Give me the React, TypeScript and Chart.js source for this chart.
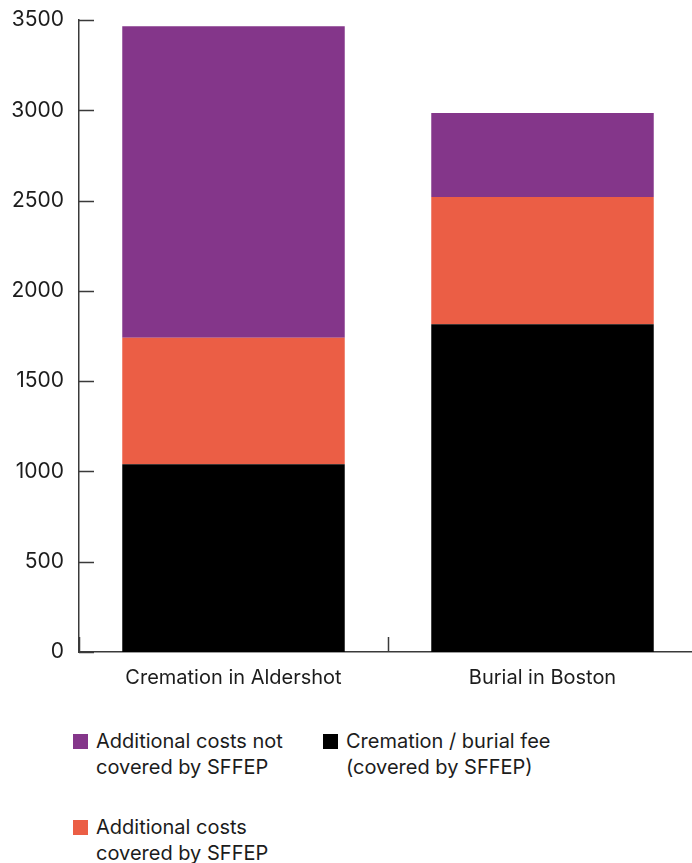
import React, { useEffect, useRef } from "react";
import { Chart, registerables } from "chart.js";

Chart.register(...registerables);

// Funeral cost breakdown, in pounds
const categories = ["Cremation in Aldershot", "Burial in Boston"];
const feeCovered = [1040, 1815];
const extraCovered = [700, 705];
const extraNotCovered = [1725, 465];
const yTicks = [0, 500, 1000, 1500, 2000, 2500, 3000, 3500];

const seriesLabels = {
  fee: ["Cremation / burial fee", "(covered by SFFEP)"],
  covered: ["Additional costs", "covered by SFFEP"],
  notCovered: ["Additional costs not", "covered by SFFEP"],
};

const PURPLE = "#84368a";
const ORANGE = "#eb5e45";
const BLACK = "#000000";
const AXIS = "#3a3a3a";
const TEXT = "#1c1c1c";
const FONT = "Inter, 'Noto Sans', sans-serif";

// Short tick marks drawn inward from both axes
const innerTicks = {
  id: "innerTicks",
  afterDatasetsDraw(chart: any) {
    const { ctx, chartArea, scales } = chart;
    const x = scales.x;
    const y = scales.y;
    const len = 15;
    ctx.save();
    ctx.strokeStyle = AXIS;
    ctx.lineWidth = 1.5;
    ctx.beginPath();
    y.ticks.forEach((_t: any, i: number) => {
      const py = Math.round(y.getPixelForTick(i)) + 0.5;
      ctx.moveTo(chartArea.left, py);
      ctx.lineTo(chartArea.left + len, py);
    });
    const n = categories.length;
    const step = x.getPixelForValue(1) - x.getPixelForValue(0);
    for (let i = 0; i <= n; i++) {
      const px = Math.round(x.getPixelForValue(i) - step / 2) + 0.5;
      ctx.moveTo(px, chartArea.bottom);
      ctx.lineTo(px, chartArea.bottom - len);
    }
    ctx.stroke();
    ctx.restore();
  },
};

function LegendItem({ color, lines, left, top }: { color: string; lines: string[]; left: number; top: number }) {
  return (
    <div style={{ position: "absolute", left, top, display: "flex", alignItems: "flex-start" }}>
      <span
        style={{
          display: "inline-block",
          width: 15,
          height: 15,
          background: color,
          marginTop: 6,
          marginRight: 8,
          flex: "0 0 auto",
        }}
      />
      <span style={{ fontFamily: FONT, fontSize: 20, lineHeight: "26px", color: TEXT, whiteSpace: "nowrap" }}>
        {lines.map((l, i) => (
          <div key={i}>{l}</div>
        ))}
      </span>
    </div>
  );
}

export default function App() {
  const canvasRef = useRef<HTMLCanvasElement | null>(null);

  useEffect(() => {
    const canvas = canvasRef.current;
    if (!canvas) return;
    const chart = new Chart(canvas, {
      type: "bar",
      data: {
        labels: categories,
        datasets: [
          { label: seriesLabels.fee.join(" "), data: feeCovered, backgroundColor: BLACK },
          { label: seriesLabels.covered.join(" "), data: extraCovered, backgroundColor: ORANGE },
          { label: seriesLabels.notCovered.join(" "), data: extraNotCovered, backgroundColor: PURPLE },
        ],
      },
      options: {
        animation: false,
        responsive: false,
        maintainAspectRatio: false,
        layout: { padding: { top: 20, left: 0, right: 3, bottom: 0 } },
        plugins: { legend: { display: false }, tooltip: { enabled: false } },
        scales: {
          x: {
            stacked: true,
            grid: { display: false, offset: true },
            border: { display: true, color: AXIS, width: 1.5 },
            ticks: { color: TEXT, font: { family: FONT, size: 20 }, padding: 6, maxRotation: 0 },
            afterFit: (s: any) => {
              s.height = 48;
            },
          },
          y: {
            stacked: true,
            min: 0,
            max: 3500,
            afterBuildTicks: (s: any) => {
              s.ticks = yTicks.map((v) => ({ value: v }));
            },
            grid: { display: false, drawTicks: false },
            border: { display: true, color: AXIS, width: 1.5 },
            ticks: {
              color: TEXT,
              font: { family: FONT, size: 21 },
              padding: 15,
              callback: (v: any) => String(v),
            },
            afterFit: (s: any) => {
              s.width = 79;
              s.paddingTop = 0;
              s.paddingBottom = 0;
            },
          },
        },
      },
      plugins: [innerTicks],
    });
    return () => chart.destroy();
  }, []);

  return (
    <div
      style={{
        position: "absolute",
        left: 0,
        top: 0,
        width: 692,
        height: 863,
        overflow: "hidden",
        background: "#fff",
      }}
    >
      <canvas ref={canvasRef} width={700} height={700} style={{ position: "absolute", left: 0, top: 0 }} />
      <LegendItem color={PURPLE} lines={seriesLabels.notCovered} left={73} top={728} />
      <LegendItem color={BLACK} lines={seriesLabels.fee} left={323} top={728} />
      <LegendItem color={ORANGE} lines={seriesLabels.covered} left={73} top={814} />
    </div>
  );
}
